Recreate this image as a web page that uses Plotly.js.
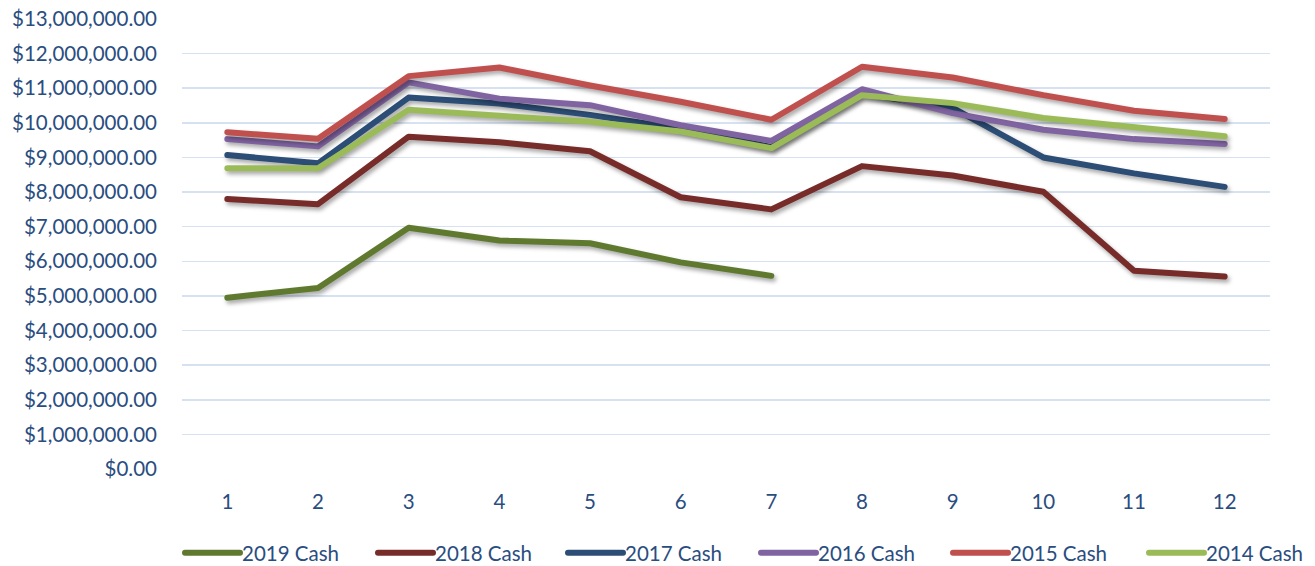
<!DOCTYPE html>
<html>
<head>
<meta charset="utf-8">
<script src="https://cdn.plot.ly/plotly-3.0.1.min.js"></script>
<style>
html,body{margin:0;padding:0;background:#fff;}
#chart{width:1315px;height:566px;}
.scatterlayer .js-line{stroke-linecap:round;stroke-linejoin:round;filter:drop-shadow(2px 3px 2px rgba(0,0,0,0.35));}
.legendlines .js-line{stroke-linecap:round;}
</style>
</head>
<body>
<div id="chart"></div>
<script>
const months = [1,2,3,4,5,6,7,8,9,10,11,12];
const seriesNames = ["2019 Cash","2018 Cash","2017 Cash","2016 Cash","2015 Cash","2014 Cash"];
const cash2019 = [4950000,5230000,6970000,6600000,6520000,5970000,5580000];
const cash2018 = [7800000,7650000,9600000,9440000,9180000,7850000,7500000,8750000,8480000,8010000,5730000,5560000];
const cash2017 = [9070000,8830000,10730000,10560000,10230000,9830000,9300000,10850000,10430000,9000000,8540000,8150000];
const cash2016 = [9530000,9320000,11170000,10700000,10510000,9930000,9480000,10970000,10280000,9800000,9530000,9390000];
const cash2015 = [9730000,9540000,11350000,11600000,11080000,10610000,10090000,11620000,11310000,10800000,10350000,10110000];
const cash2014 = [8690000,8690000,10380000,10210000,10030000,9750000,9270000,10800000,10570000,10140000,9890000,9610000];
const colors = ["#5f7a2f","#772c2a","#2c4d75","#8064a2","#c0504d","#9bbb59"];
const allSeries = [cash2019,cash2018,cash2017,cash2016,cash2015,cash2014];
const legendTextX = [242,435,625,818,1010,1206];

const legendKeys = ["legend","legend2","legend3","legend4","legend5","legend6"];
const traces = allSeries.map((vals,i)=>({
  type:"scatter", mode:"lines",
  x: months.slice(0, vals.length), y: vals,
  name: seriesNames[i],
  legend: i===0 ? "legend" : "legend"+(i+1),
  line:{color:colors[i], width:6},
  hoverinfo:"x+y+name"
}));

const textColor = "#2a4d80";
const fs = 20.5;
const layout = {
  width:1315, height:566,
  margin:{l:182, r:45, t:19, b:97},
  paper_bgcolor:"#fff", plot_bgcolor:"#fff",
  font:{family:"Lato, 'Open Sans', sans-serif", color:textColor, size:fs},
  xaxis:{
    type:"linear", range:[0.5,12.5], tickmode:"array", tickvals:months, ticktext:months.map(String),
    showgrid:false, zeroline:false, showline:false, ticks:"", ticklen:0, ticklabelstandoff:18,
    tickfont:{size:fs,color:textColor}
  },
  yaxis:{
    range:[0,13000000], dtick:1000000, tick0:0, tickformat:"$,.2f",
    showgrid:true, gridcolor:"#d6e2f1", gridwidth:1.5, zeroline:false, showline:false,
    ticks:"", ticklen:0, ticklabelstandoff:24, tickfont:{size:fs,color:textColor}
  },
  showlegend:true
};
legendKeys.forEach((k,i)=>{
  layout[k] = {
    orientation:"h", xref:"container", yref:"container",
    x:(legendTextX[i]-40)/1315, xanchor:"left", y:(566-553)/566, yanchor:"middle",
    font:{size:fs,color:textColor}, bgcolor:"rgba(0,0,0,0)", borderwidth:0
  };
});
Plotly.newPlot("chart", traces, layout, {displayModeBar:false, staticPlot:true}).then(()=>{
  document.querySelectorAll(".infolayer > g [clip-path]").forEach(el=>el.removeAttribute("clip-path"));
  document.querySelectorAll(".infolayer .legendlines path").forEach(p=>{
    p.setAttribute("d","M-17,0h55");
  });
});
</script>
</body>
</html>
